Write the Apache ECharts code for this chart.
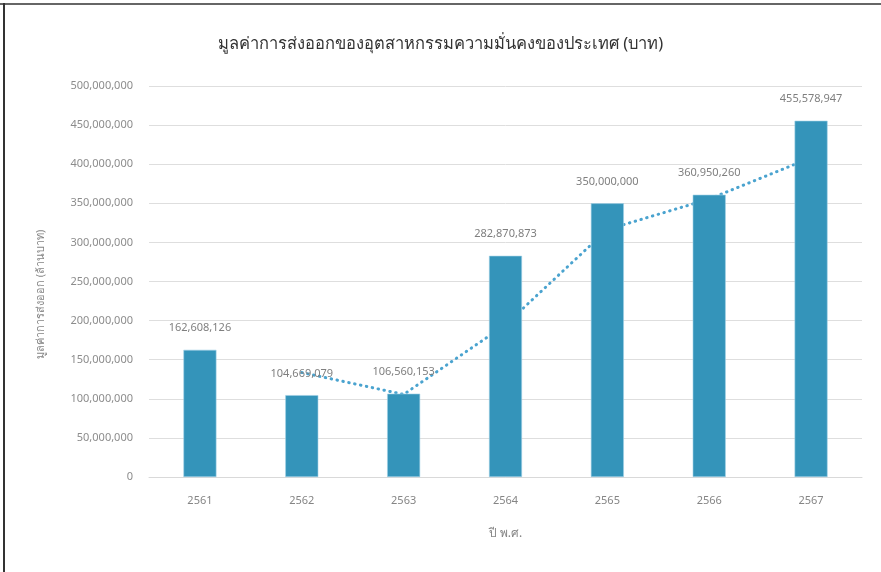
<!DOCTYPE html>
<html>
<head>
<meta charset="utf-8">
<script src="https://cdn.jsdelivr.net/npm/echarts@6/dist/echarts.min.js"></script>
<style>
  html, body { margin: 0; padding: 0; background: #fff; }
  #chart { width: 881px; height: 572px; }
</style>
</head>
<body>
<div id="chart"></div>
<script>
// ข้อมูลปี พ.ศ. และมูลค่าการส่งออก
const years = ['2561', '2562', '2563', '2564', '2565', '2566', '2567'];
const exportValues = [162608126, 104669079, 106560153, 282870873, 350000000, 360950260, 455578947];
// เส้นแนวโน้ม (ค่าเฉลี่ยเคลื่อนที่ 2 ช่วง ตามที่อ่านจากภาพ)
const trendValues = [null, 133640000, 105610000, 194720000, 316440000, 355480000, 408260000];

const titleText = 'มูลค่าการส่งออกของอุตสาหกรรมความมั่นคงของประเทศ (บาท)';
const yName = 'มูลค่าการส่งออก (ล้านบาท)';
const xName = 'ปี พ.ศ.';

const font = '"Noto Sans", "DejaVu Sans", sans-serif';
const fmt = (v) => v.toString().replace(/\B(?=(\d{3})+(?!\d))/g, ',');

const chart = echarts.init(document.getElementById('chart'));
chart.setOption({
  animation: false,
  textStyle: { fontFamily: font },
  title: {
    text: titleText,
    left: 'center',
    top: 31,
    textStyle: { fontSize: 16.5, fontWeight: 'normal', color: '#333', fontFamily: font }
  },
  graphic: [
    { type: 'rect', shape: { x: 0, y: 3, width: 881, height: 2 }, style: { fill: '#666' } },
    { type: 'rect', shape: { x: 3, y: 3, width: 2, height: 569 }, style: { fill: '#333' } }
  ],
  grid: { left: 149, right: 19, top: 86, bottom: 95 },
  xAxis: {
    type: 'category',
    data: years,
    name: xName,
    nameLocation: 'middle',
    nameGap: 51,
    nameTextStyle: { color: '#858585', fontSize: 12 },
    axisLine: { lineStyle: { color: '#d9d9d9', width: 1 } },
    axisTick: { show: false },
    axisLabel: { color: '#858585', fontSize: 11, margin: 18 }
  },
  yAxis: {
    type: 'value',
    min: 0,
    max: 500000000,
    interval: 50000000,
    name: yName,
    nameLocation: 'middle',
    nameGap: 103,
    nameTextStyle: { color: '#858585', fontSize: 11, padding: [0, 0, 0, -26] },
    axisLine: { show: false },
    axisTick: { show: false },
    axisLabel: { color: '#8c8c8c', fontSize: 11, margin: 16, formatter: fmt },
    splitLine: { lineStyle: { color: '#dedede', width: 1 } }
  },
  series: [
    {
      name: 'trend',
      type: 'line',
      data: trendValues,
      z: 1,
      symbol: 'none',
      connectNulls: false,
      lineStyle: { color: '#4aa3cf', width: 3, type: [0.5, 5.5], cap: 'round' }
    },
    {
      name: 'export',
      type: 'bar',
      data: exportValues,
      z: 2,
      barWidth: 33,
      itemStyle: { color: '#3494ba', borderColor: '#9fd0e6', borderWidth: 0.6 },
      label: {
        show: true,
        position: 'top',
        distance: 16,
        color: '#7f7f7f',
        fontSize: 11,
        formatter: (p) => fmt(p.value)
      }
    }
  ]
});
</script>
</body>
</html>
